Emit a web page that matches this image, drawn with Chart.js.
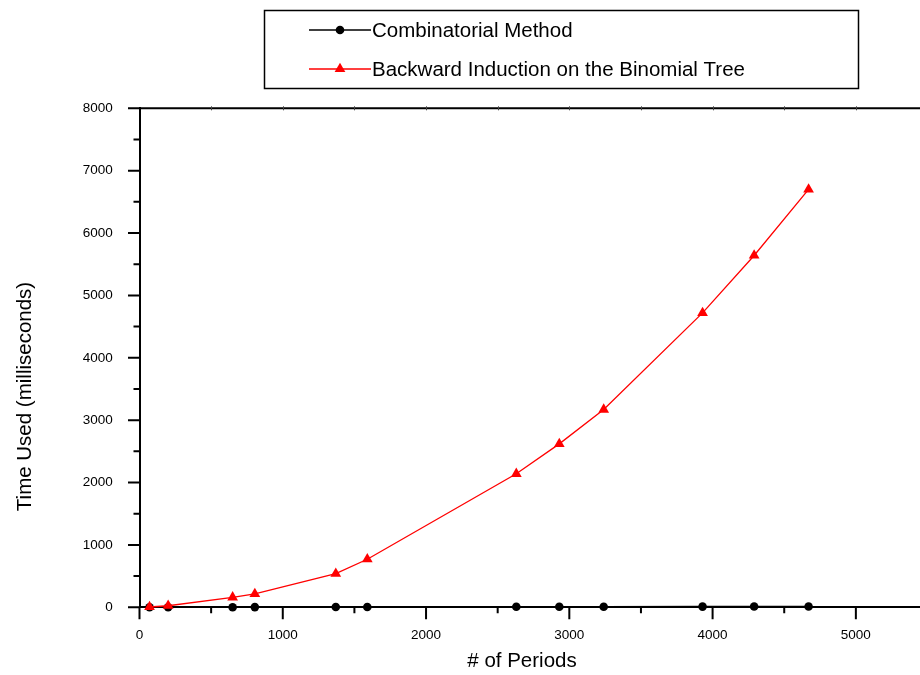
<!DOCTYPE html>
<html>
<head>
<meta charset="utf-8">
<script src="https://cdn.jsdelivr.net/npm/chart.js@4/dist/chart.umd.min.js"></script>
<style>
  html, body { margin: 0; padding: 0; background: #fff; overflow: hidden; }
  #wrap { width: 935px; height: 675px; }
</style>
</head>
<body>
<div id="wrap"><canvas id="chart" width="935" height="675"></canvas></div>
<script>
// values
const periods = [70, 200, 650, 805, 1370, 1590, 2630, 2930, 3240, 3930, 4290, 4670];
const combinatorialMs = [1, 1, 2, 3, 5, 6, 8, 9, 10, 11, 12, 14];
const backwardMs = [5, 25, 160, 215, 540, 770, 2140, 2620, 3170, 4720, 5640, 6700];
const seriesNames = ['Combinatorial Method', 'Backward Induction on the Binomial Tree'];
const xTicks = [0, 1000, 2000, 3000, 4000, 5000];
const yTicks = [0, 1000, 2000, 3000, 4000, 5000, 6000, 7000, 8000];
const xTitle = '# of Periods';
const yTitle = 'Time Used (milliseconds)';

const FONT = "'Liberation Sans', Arial, Helvetica, sans-serif";

function toPoints(ys) {
  return periods.map(function (p, i) { return { x: p, y: ys[i] }; });
}

// tick marks (major + minor), top frame, axis titles and the boxed legend
const decor = {
  id: 'decor',
  beforeDatasetsDraw(chart) {
    const ctx = chart.ctx, a = chart.chartArea;
    const xs = chart.scales.x, ys = chart.scales.y;
    ctx.save();
    ctx.strokeStyle = '#000';
    ctx.lineWidth = 2;
    ctx.beginPath();
    ctx.moveTo(a.left, a.top);
    ctx.lineTo(a.right, a.top);
    yTicks.forEach(function (v, i) {
      const py = ys.getPixelForValue(v);
      ctx.moveTo(a.left - 11.5, py);
      ctx.lineTo(a.left, py);
      if (i < yTicks.length - 1) {
        const pm = ys.getPixelForValue((v + yTicks[i + 1]) / 2);
        ctx.moveTo(a.left - 6, pm);
        ctx.lineTo(a.left, pm);
      }
    });
    xTicks.forEach(function (v, i) {
      const px = xs.getPixelForValue(v);
      ctx.moveTo(px, a.bottom);
      ctx.lineTo(px, a.bottom + 12);
      if (i < xTicks.length - 1) {
        const pm = xs.getPixelForValue((v + xTicks[i + 1]) / 2);
        ctx.moveTo(pm, a.bottom);
        ctx.lineTo(pm, a.bottom + 6);
      }
    });
    ctx.stroke();
    // tiny marks on the top frame
    ctx.lineWidth = 1;
    ctx.strokeStyle = '#444';
    ctx.beginPath();
    for (let v = 500; v < xs.max; v += 500) {
      const px = Math.round(xs.getPixelForValue(v)) + 0.5;
      ctx.moveTo(px, a.top - 2);
      ctx.lineTo(px, a.top + 2);
    }
    ctx.stroke();
    ctx.restore();
  },
  afterDraw(chart) {
    const ctx = chart.ctx;
    ctx.save();
    ctx.fillStyle = '#000';
    ctx.font = '20.5px ' + FONT;
    ctx.textAlign = 'center';
    ctx.textBaseline = 'alphabetic';
    ctx.fillText(xTitle, 522, 667);
    ctx.save();
    ctx.translate(30.5, 396.5);
    ctx.rotate(-Math.PI / 2);
    ctx.fillText(yTitle, 0, 0);
    ctx.restore();

    // legend box
    ctx.strokeStyle = '#000';
    ctx.lineWidth = 1.5;
    ctx.strokeRect(264.5, 10.5, 594, 78);
    const rows = [30, 69];
    chart.data.datasets.forEach(function (ds, i) {
      const y = rows[i];
      ctx.strokeStyle = ds.borderColor;
      ctx.lineWidth = ds.borderWidth;
      ctx.beginPath();
      ctx.moveTo(309, y);
      ctx.lineTo(371, y);
      ctx.stroke();
      ctx.fillStyle = ds.backgroundColor;
      Chart.helpers.drawPoint(ctx, {
        pointStyle: ds.pointStyle, radius: ds.pointRadius, rotation: 0, borderWidth: 0
      }, 340, y);
      ctx.fillStyle = '#000';
      ctx.textAlign = 'left';
      ctx.font = '20.5px ' + FONT;
      ctx.fillText(ds.label, 372, y + 7);
    });
    ctx.restore();
  }
};

const plainLabel = function (v) { return String(v); };

new Chart(document.getElementById('chart'), {
  type: 'line',
  data: {
    datasets: [{
      label: seriesNames[0],
      data: toPoints(combinatorialMs),
      borderColor: '#000',
      backgroundColor: '#000',
      borderWidth: 1.5,
      pointStyle: 'circle',
      pointRadius: 4.3,
      pointBorderWidth: 0,
      tension: 0,
      order: 1,
    }, {
      label: seriesNames[1],
      data: toPoints(backwardMs),
      borderColor: '#ff0000',
      backgroundColor: '#ff0000',
      borderWidth: 1.3,
      pointStyle: 'triangle',
      pointRadius: 6.2,
      pointBorderWidth: 0,
      tension: 0,
      order: 0,
    }],
  },
  options: {
    responsive: false,
    animation: false,
    events: [],
    clip: false,
    layout: { padding: { top: 108.3, right: 7.5, left: 0, bottom: 0 } },
    plugins: { legend: { display: false }, tooltip: { enabled: false } },
    scales: {
      x: {
        type: 'linear',
        min: 0,
        max: 5500,
        afterFit: function (s) { s.height = 67.7; },
        afterBuildTicks: function (s) { s.ticks = xTicks.map(function (v) { return { value: v }; }); },
        grid: { display: false, drawTicks: false },
        border: { display: true, color: '#000', width: 2 },
        ticks: { color: '#000', font: { family: FONT, size: 13.5 }, padding: 20, maxRotation: 0, autoSkip: false, callback: plainLabel },
      },
      y: {
        type: 'linear',
        min: 0,
        max: 8000,
        afterFit: function (s) { s.width = 139.5; },
        afterBuildTicks: function (s) { s.ticks = yTicks.map(function (v) { return { value: v }; }); },
        grid: { display: false, drawTicks: false },
        border: { display: true, color: '#000', width: 2 },
        ticks: { color: '#000', font: { family: FONT, size: 13.5 }, padding: 26.8, autoSkip: false, callback: plainLabel },
      },
    },
  },
  plugins: [decor],
});
</script>
</body>
</html>
